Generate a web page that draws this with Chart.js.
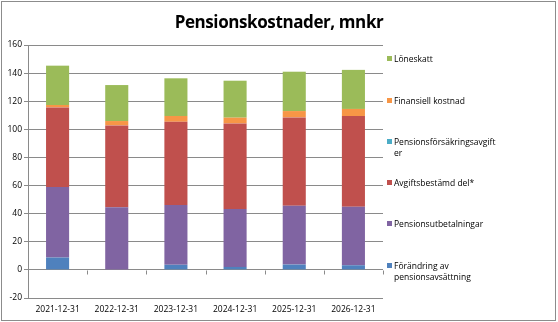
<!DOCTYPE html>
<html>
<head>
<meta charset="utf-8">
<script src="https://cdn.jsdelivr.net/npm/chart.js@4"></script>
<style>
  html, body { margin: 0; padding: 0; background: #fff; }
  #wrap { position: relative; width: 558px; height: 322px; overflow: hidden; }
  #frame { position: absolute; left: 1px; top: 1px; width: 555px; height: 320px; border: 1px solid #8c8c8c; box-sizing: border-box; pointer-events: none; }
  #title { position: absolute; left: 129px; top: 10px; width: 300px; text-align: center; font: bold 17px "Open Sans", sans-serif; letter-spacing: -0.4px; color: #000; white-space: nowrap; }
  #legend { position: absolute; left: 387px; top: 0; width: 140px; font: 8.5px "Open Sans", sans-serif; color: #000; }
  .item { position: absolute; left: 0; display: flex; align-items: flex-start; }
  .sw { width: 5px; height: 5px; margin-top: 3px; margin-right: 2px; flex: none; }
  .txt { width: 106px; line-height: 11px; }
  canvas { position: absolute; left: 0; top: 0; }
</style>
</head>
<body>
<div id="wrap">
  <canvas id="c" width="558" height="322"></canvas>
  <div id="title">Pensionskostnader, mnkr</div>
  <div id="legend"></div>
  <div id="frame"></div>
</div>
<script>
// Years on the category axis
const categories = ['2021-12-31', '2022-12-31', '2023-12-31', '2024-12-31', '2025-12-31', '2026-12-31'];

// Cost components, mnkr (stacked bottom to top)
const forandringPensionsavsattning = [8.8, 0, 3.6, 2.1, 3.8, 3.3];
const pensionsutbetalningar       = [50.1, 44.6, 42.5, 41.3, 41.8, 41.6];
const avgiftsbestamdDel           = [56.7, 58.2, 59.3, 60.8, 62.9, 64.6];
const pensionsforsakringsavgifter = [0, 0, 0, 0, 0, 0];
const finansiellKostnad           = [1.7, 3.1, 4.1, 4.1, 4.5, 5.0];
const loneskatt                   = [28.0, 25.6, 26.8, 26.3, 28.0, 27.8];

// Value axis ticks
const yTicks = [-20, 0, 20, 40, 60, 80, 100, 120, 140, 160];

// Long legend name wraps inside the word, after "avgift"
const series = [
  { label: 'Förändring av pensionsavsättning', data: forandringPensionsavsattning, color: '#4F81BD' },
  { label: 'Pensionsutbetalningar', data: pensionsutbetalningar, color: '#8064A2' },
  { label: 'Avgiftsbestämd del*', data: avgiftsbestamdDel, color: '#C0504D' },
  { label: 'Pensionsförsäkringsavgift\u200Ber', data: pensionsforsakringsavgifter, color: '#4BACC6' },
  { label: 'Finansiell kostnad', data: finansiellKostnad, color: '#F79646' },
  { label: 'Löneskatt', data: loneskatt, color: '#9BBB59' }
];

const gridColor = '#8a8a8a';
const tickFont = { family: 'Open Sans', size: 8.5 };

// Small tick marks on the zero line between categories
const zeroLineTicks = {
  id: 'zeroLineTicks',
  afterDraw(chart) {
    const x = chart.scales.x, y = chart.scales.y;
    const ctx = chart.ctx;
    const y0 = Math.round(y.getPixelForValue(0)) + 0.5;
    ctx.save();
    ctx.strokeStyle = gridColor;
    ctx.lineWidth = 1;
    ctx.beginPath();
    for (let i = 0; i <= categories.length; i++) {
      const px = Math.round(x.left + (x.right - x.left) * i / categories.length) + 0.5;
      ctx.moveTo(px, y0);
      ctx.lineTo(px, y0 + 4);
    }
    ctx.stroke();
    ctx.restore();
  }
};

const chart = new Chart(document.getElementById('c'), {
  type: 'bar',
  data: {
    labels: categories,
    datasets: series.map(s => ({
      label: s.label,
      data: s.data,
      backgroundColor: s.color,
      borderWidth: 0,
      categoryPercentage: 1,
      barPercentage: 0.39
    }))
  },
  options: {
    responsive: false,
    animation: false,
    layout: { padding: { left: 0, right: 175, top: 45, bottom: 0 } },
    plugins: { legend: { display: false }, tooltip: { enabled: false } },
    scales: {
      x: {
        stacked: true,
        grid: { display: false, drawTicks: false },
        border: { display: false },
        ticks: { font: tickFont, color: '#000', padding: 6, maxRotation: 0 },
        afterFit(scale) { scale.height = 24; }
      },
      y: {
        stacked: true,
        min: -20,
        max: 160,
        afterBuildTicks(scale) { scale.ticks = yTicks.map(v => ({ value: v })); },
        grid: { color: gridColor, tickLength: 4, lineWidth: 1 },
        border: { display: true, color: gridColor },
        ticks: { font: tickFont, color: '#000', padding: 2 },
        afterFit(scale) { scale.width = 28; }
      }
    }
  },
  plugins: [zeroLineTicks]
});

// Legend, top entry = top of the stack; first-line centres of each entry
const legend = document.getElementById('legend');
const lineCentres = [58, 100, 141, 182, 223, 265];
series.slice().reverse().forEach((s, i) => {
  const item = document.createElement('div');
  item.className = 'item';
  const sw = document.createElement('div');
  sw.className = 'sw';
  sw.style.background = s.color;
  const txt = document.createElement('div');
  txt.className = 'txt';
  txt.textContent = s.label;
  item.appendChild(sw);
  item.appendChild(txt);
  legend.appendChild(item);
  item.style.top = (lineCentres[i] - 5.5) + 'px';
});
</script>
</body>
</html>
